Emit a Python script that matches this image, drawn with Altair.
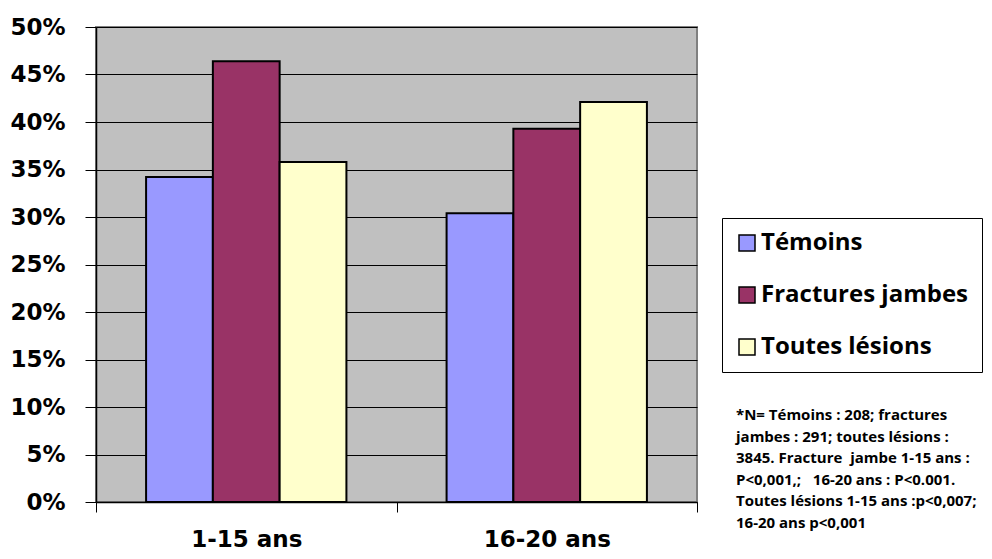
import altair as alt
import pandas as pd

categories = ["1-15 ans", "16-20 ans"]
series = ["Témoins", "Fractures jambes", "Toutes lésions"]
temoins = [34.2, 30.4]
fractures = [46.4, 39.3]
toutes = [35.8, 42.1]
colors = ["#9999FF", "#993366", "#FFFFCC"]
y_ticks = [0, 5, 10, 15, 20, 25, 30, 35, 40, 45, 50]
note_lines = [
    "*N= Témoins : 208; fractures",
    "jambes : 291; toutes lésions :",
    "3845. Fracture \u00a0jambe 1-15 ans :",
    "P<0,001,; \u00a0 16-20 ans : P<0.001.",
    "Toutes lésions 1-15 ans :p<0,007;",
    "16-20 ans p<0,001",
]

rows = []
for name, vals in zip(series, [temoins, fractures, toutes]):
    for cat, v in zip(categories, vals):
        rows.append({"age": cat, "serie": name, "val": v})
df = pd.DataFrame(rows)

AXFONT = "DejaVu Sans"
FONT = "Open Sans"

bars = alt.Chart(df).mark_bar(stroke="black", strokeWidth=2).encode(
    x=alt.X(
        "age:N",
        sort=categories,
        scale=alt.Scale(paddingInner=0, paddingOuter=0),
        axis=alt.Axis(
            title=None, labelAngle=0, tickBand="extent", grid=False,
            labelFont=AXFONT, labelFontSize=23, labelFontWeight="bold", labelColor="black",
            domainColor="black", domainWidth=1.5, tickColor="black", tickSize=10, labelPadding=16,
        ),
    ),
    xOffset=alt.XOffset("serie:N", sort=series, scale=alt.Scale(paddingInner=0, paddingOuter=0.75)),
    y=alt.Y(
        "val:Q",
        scale=alt.Scale(domain=[0, 50], nice=False),
        axis=alt.Axis(
            title=None, values=y_ticks, labelExpr="datum.value + '%'",
            labelFont=AXFONT, labelFontSize=23, labelFontWeight="bold", labelColor="black",
            domainColor="black", domainWidth=1.5, tickColor="black", tickSize=11, labelPadding=20,
            grid=True, gridColor="black", gridWidth=1,
        ),
    ),
    color=alt.Color(
        "serie:N",
        sort=series,
        scale=alt.Scale(domain=series, range=colors),
        legend=alt.Legend(
            title=None, orient="none", legendX=626, legendY=191,
            strokeColor="black", fillColor="white", padding=13,
            symbolType="square", symbolSize=256, symbolStrokeColor="black", symbolStrokeWidth=1.5,
            labelFont=FONT, labelFontSize=24, labelFontWeight="bold", labelColor="black",
            labelOffset=2, rowPadding=28, labelLimit=400,
        ),
    ),
)

note = alt.Chart(pd.DataFrame({"k": [0]})).mark_text(
    align="left", baseline="top", font=FONT, fontSize=15, fontWeight="bold",
    lineHeight=21.5, color="black",
).encode(
    x=alt.value(640), y=alt.value(381), text=alt.value(note_lines)
)

chart = alt.layer(bars, note).properties(
    width=601, height=475,
    autosize=alt.AutoSizeParams(type="none"),
    padding={"left": 88, "top": 19, "right": 287, "bottom": 60},
).configure_view(
    fill="#C0C0C0", stroke="#808080", strokeWidth=2
)

chart.save("out.html", embed_options={"renderer": "svg", "actions": False})
